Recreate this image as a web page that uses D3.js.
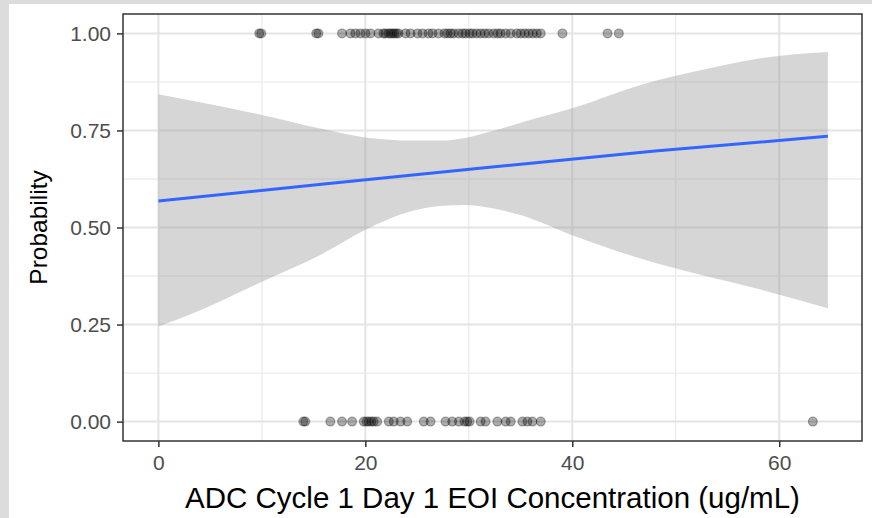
<!DOCTYPE html>
<html>
<head>
<meta charset="utf-8">
<script src="https://cdn.jsdelivr.net/npm/d3@7"></script>
<style>
  body { margin: 0; background: #fff; }
  svg { display: block; font-family: "Liberation Sans", Arial, sans-serif; }
</style>
</head>
<body>
<div id="chart"></div>
<script>
// observed responders (y = 1) and non-responders (y = 0), concentration in ug/mL
const respX = [9.75, 9.94, 15.26, 15.46, 17.75, 18.56, 19.04, 19.53, 20.01, 20.49, 21.27, 21.75,
  21.94, 22.23, 22.43, 22.62, 22.81, 23.0, 23.21, 23.88, 24.37, 25.04, 25.53, 26.1, 26.49,
  27.07, 27.65, 27.95, 28.24, 28.53, 29.01, 29.4, 29.69, 30.07, 30.36, 30.75, 31.14, 31.53,
  31.91, 32.4, 32.79, 33.08, 33.56, 34.05, 34.63, 35.02, 35.41, 35.79, 36.18, 36.57, 36.95,
  39.05, 43.41, 44.5]
const nonRespX = [14.01, 14.2, 16.62, 17.75, 18.72, 19.85, 20.11, 20.33, 20.59, 20.81, 21.14,
  22.27, 22.75, 23.4, 24.05, 25.65, 26.3, 27.75, 28.4, 29.04, 29.59, 29.85, 30.08, 31.14,
  31.62, 32.76, 33.56, 34.05, 35.18, 35.66, 36.15, 36.95, 63.25]

// fitted logistic curve and its confidence band
const fitX = [0, 16, 32, 48, 64.7]
const fitY = [0.568, 0.612, 0.655, 0.697, 0.735]
const bandX = [0, 3, 10, 16, 20, 24.6, 27.5, 29.5, 32.4, 35, 40, 46.6, 52.4, 58.2, 64.7]
const bandLow = [0.245, 0.275, 0.360, 0.434, 0.494, 0.543, 0.556, 0.558, 0.549, 0.532, 0.480, 0.420, 0.378, 0.340, 0.292]
const bandHigh = [0.843, 0.828, 0.790, 0.753, 0.732, 0.724, 0.724, 0.730, 0.749, 0.770, 0.807, 0.867, 0.905, 0.936, 0.952]

const xTicks = [0, 20, 40, 60]
const xMinor = [10, 30, 50]
const yTicks = [0, 0.25, 0.5, 0.75, 1]
const yMinor = [0.125, 0.375, 0.625, 0.875]

const width = 872
const height = 518

const svg = d3.select("#chart").append("svg")
  .attr("width", width)
  .attr("height", height)

// light grey frame around the screenshot
svg.append("rect").attr("x", 0).attr("y", 0).attr("width", width).attr("height", height).attr("fill", "#dcdcdc")
svg.append("rect").attr("x", 9).attr("y", 4).attr("width", width - 9).attr("height", height - 4).attr("fill", "#fff")

const panel = { left: 123, right: 862, top: 14, bottom: 441 }

const x = d3.scaleLinear().domain([-3.42, 68.0]).range([panel.left, panel.right])
const y = d3.scaleLinear().domain([-0.05, 1.05]).range([panel.bottom, panel.top])

// grid lines
const grid = svg.append("g")
grid.selectAll(".vminor").data(xMinor).enter().append("line")
  .attr("x1", d => x(d)).attr("x2", d => x(d))
  .attr("y1", panel.top).attr("y2", panel.bottom)
  .attr("stroke", "#ececec").attr("stroke-width", 1.3)
grid.selectAll(".hminor").data(yMinor).enter().append("line")
  .attr("y1", d => y(d)).attr("y2", d => y(d))
  .attr("x1", panel.left).attr("x2", panel.right)
  .attr("stroke", "#ececec").attr("stroke-width", 1.3)
grid.selectAll(".vmajor").data(xTicks).enter().append("line")
  .attr("x1", d => x(d)).attr("x2", d => x(d))
  .attr("y1", panel.top).attr("y2", panel.bottom)
  .attr("stroke", "#e4e4e4").attr("stroke-width", 2)
grid.selectAll(".hmajor").data(yTicks).enter().append("line")
  .attr("y1", d => y(d)).attr("y2", d => y(d))
  .attr("x1", panel.left).attr("x2", panel.right)
  .attr("stroke", "#e4e4e4").attr("stroke-width", 2)

// confidence band
const bandData = bandX.map((d, i) => ({ x: d, lo: bandLow[i], hi: bandHigh[i] }))
svg.append("path")
  .datum(bandData)
  .attr("fill", "#999999")
  .attr("fill-opacity", 0.4)
  .attr("d", d3.area().x(d => x(d.x)).y0(d => y(d.lo)).y1(d => y(d.hi)).curve(d3.curveMonotoneX))

// points
const pts = respX.map(d => ({ x: d, y: 1 })).concat(nonRespX.map(d => ({ x: d, y: 0 })))
svg.append("g").selectAll("circle")
  .data(pts).enter().append("circle")
  .attr("cx", d => x(d.x))
  .attr("cy", d => y(d.y))
  .attr("r", 4.4)
  .attr("fill", "#000").attr("fill-opacity", 0.32)
  .attr("stroke", "#000").attr("stroke-opacity", 0.32).attr("stroke-width", 1.2)

// fitted line
svg.append("path")
  .datum(fitX.map((d, i) => [d, fitY[i]]))
  .attr("fill", "none")
  .attr("stroke", "#3366ff")
  .attr("stroke-width", 3)
  .attr("d", d3.line().x(d => x(d[0])).y(d => y(d[1])).curve(d3.curveMonotoneX))

// panel border
svg.append("rect")
  .attr("x", panel.left).attr("y", panel.top)
  .attr("width", panel.right - panel.left).attr("height", panel.bottom - panel.top)
  .attr("fill", "none").attr("stroke", "#333").attr("stroke-width", 1.5)

// axes
const xAxis = svg.append("g")
  .attr("transform", `translate(0,${panel.bottom})`)
  .call(d3.axisBottom(x).tickValues(xTicks).tickSize(6).tickPadding(8).tickFormat(d3.format("d")))
const yAxis = svg.append("g")
  .attr("transform", `translate(${panel.left},0)`)
  .call(d3.axisLeft(y).tickValues(yTicks).tickSize(6).tickPadding(6).tickFormat(d3.format(".2f")))

;[xAxis, yAxis].forEach(a => {
  a.select(".domain").remove()
  a.selectAll(".tick line").attr("stroke", "#333").attr("stroke-width", 1.5)
  a.selectAll(".tick text").attr("fill", "#4d4d4d").style("font-size", "21px")
    .style("font-family", "'Liberation Sans', Arial, sans-serif")
})

// axis titles
svg.append("text")
  .attr("x", (panel.left + panel.right) / 2)
  .attr("y", 508)
  .attr("text-anchor", "middle")
  .style("font-size", "29.5px")
  .attr("fill", "#000")
  .text("ADC Cycle 1 Day 1 EOI Concentration (ug/mL)")

svg.append("text")
  .attr("transform", `translate(47,${(panel.top + panel.bottom) / 2}) rotate(-90)`)
  .attr("text-anchor", "middle")
  .style("font-size", "24.5px")
  .attr("fill", "#000")
  .text("Probability")
</script>
</body>
</html>
